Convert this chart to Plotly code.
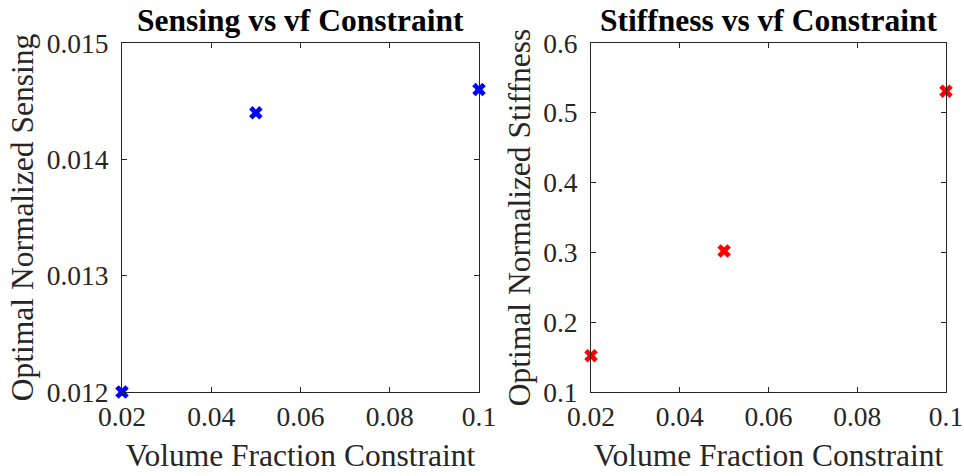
import plotly.graph_objects as go

vf = [0.02, 0.05, 0.1]
sensing = [0.0120, 0.0144, 0.0146]
stiffness = [0.152, 0.302, 0.531]
x_ticks = [0.02, 0.04, 0.06, 0.08, 0.1]
x_tick_text = ["0.02", "0.04", "0.06", "0.08", "0.1"]
sens_ticks = [0.012, 0.013, 0.014, 0.015]
sens_tick_text = ["0.012", "0.013", "0.014", "0.015"]
stiff_ticks = [0.1, 0.2, 0.3, 0.4, 0.5, 0.6]
stiff_tick_text = ["0.1", "0.2", "0.3", "0.4", "0.5", "0.6"]

W, H = 964, 476
FONT = "Liberation Serif, Times New Roman, serif"
AX = "#262626"

fig = go.Figure()
fig.add_trace(go.Scatter(x=vf, y=sensing, mode="markers", xaxis="x", yaxis="y",
                         marker=dict(symbol="x", size=12, color="#0000FF", line=dict(width=0)),
                         cliponaxis=False, showlegend=False))
fig.add_trace(go.Scatter(x=vf, y=stiffness, mode="markers", xaxis="x2", yaxis="y2",
                         marker=dict(symbol="x", size=12, color="#FF0000", line=dict(width=0)),
                         cliponaxis=False, showlegend=False))

def xa(domain, anchor):
    return dict(domain=domain, anchor=anchor, range=[0.02, 0.1], tickvals=x_ticks,
                ticktext=x_tick_text, ticks="inside", ticklen=5, tickcolor=AX, tickwidth=1,
                showline=True, linecolor=AX, linewidth=1, mirror="ticks", showgrid=False,
                zeroline=False, automargin=False,
                tickfont=dict(family=FONT, size=27.5, color=AX),
                title=dict(text="Volume Fraction Constraint", font=dict(family=FONT, size=31.5, color=AX), standoff=12))

def ya(domain, anchor, rng, tv, tt, title):
    return dict(domain=domain, anchor=anchor, range=rng, tickvals=tv, ticktext=tt,
                ticks="inside", ticklen=5, tickcolor=AX, tickwidth=1,
                showline=True, linecolor=AX, linewidth=1, mirror="ticks", showgrid=False,
                zeroline=False, automargin=False, ticklabelstandoff=7,
                tickfont=dict(family=FONT, size=27.5, color=AX),
                title=dict(text=title, font=dict(family=FONT, size=31.5, color=AX), standoff=3))

ydom = [1 - 392 / H, 1 - 43 / H]
fig.update_layout(
    width=W, height=H, margin=dict(l=0, r=0, t=0, b=0),
    paper_bgcolor="white", plot_bgcolor="white",
    xaxis=xa([122 / W, 479 / W], "y"),
    yaxis=ya(ydom, "x", [0.012, 0.015], sens_ticks, sens_tick_text, "Optimal Normalized Sensing"),
    xaxis2=xa([591 / W, 946 / W], "y2"),
    yaxis2=ya(ydom, "x2", [0.1, 0.6], stiff_ticks, stiff_tick_text, "Optimal Normalized Stiffness"),
    annotations=[
        dict(text="<b>Sensing vs vf Constraint</b>", xref="paper", yref="paper",
             x=(122 + 479) / 2 / W, y=1 - 21 / H, xanchor="center", yanchor="middle",
             showarrow=False, font=dict(family=FONT, size=31.5, color="black")),
        dict(text="<b>Stiffness vs vf Constraint</b>", xref="paper", yref="paper",
             x=(591 + 946) / 2 / W, y=1 - 21 / H, xanchor="center", yanchor="middle",
             showarrow=False, font=dict(family=FONT, size=31.5, color="black")),
    ],
)

fig.write_html("out.html")
